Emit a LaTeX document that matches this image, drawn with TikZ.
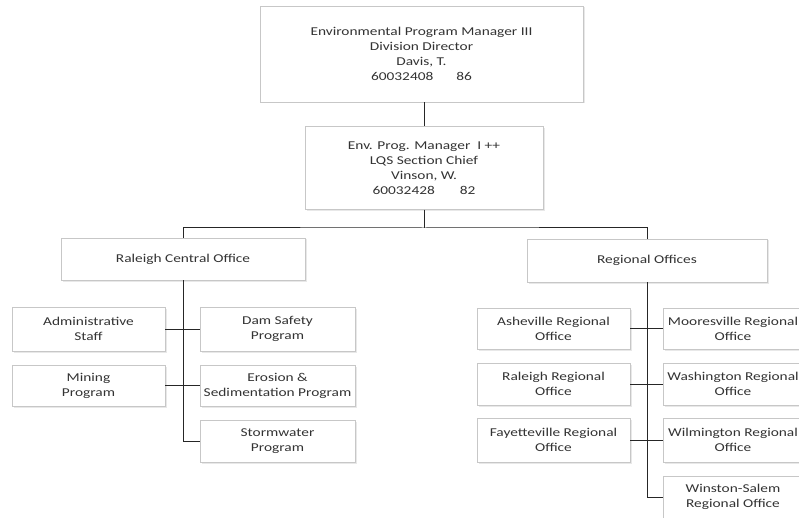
\documentclass[tikz,border=0pt]{standalone}
\usepackage{fontspec}
\setmainfont{Carlito}[FakeStretch=1.28]
\usetikzlibrary{shadows}
\tikzset{
  unit/.style={draw=black!22, fill=white, align=center, text=black!80,
    font=\fontsize{12}{15}\selectfont, inner sep=0pt,
    drop shadow={opacity=0.18, shadow xshift=1.5pt, shadow yshift=-1.5pt}},
  link/.style={draw=black!85, line width=1pt}
}
\begin{document}
\begin{tikzpicture}[x=1pt,y=-1pt]
        \useasboundingbox (0,0) rectangle (799,518);
        %% division director and section chief
        \node[unit, minimum width=323, minimum height=96] (dir) at (421.5,54)
            {Environmental Program Manager III\\Division Director\\Davis, T.\\60032408\hspace{23pt}86};
        \node[unit, minimum width=238, minimum height=83] (chief) at (424,168)
            {Env. Prog. Manager\ \ I ++\\LQS Section Chief\\Vinson, W.\\60032428\hspace{25pt}82};
        %% the two offices
        \node[unit, minimum width=244, minimum height=42] (rco) at (183,259) {Raleigh Central Office};
        \node[unit, minimum width=240, minimum height=43] (reg) at (647,260.5) {Regional Offices};
        %% central office programs
        \node[unit, minimum width=153, minimum height=44] (admin) at (88.5,329) {Administrative\\Staff};
        \node[unit, minimum width=155, minimum height=44] (dam) at (277.5,329) {Dam Safety\\Program};
        \node[unit, minimum width=153, minimum height=41] (mining) at (88.5,385.5) {Mining\\Program};
        \node[unit, minimum width=155, minimum height=41] (erosion) at (277.5,385.5) {Erosion \&\\Sedimentation Program};
        \node[unit, minimum width=155, minimum height=42] (storm) at (277.5,441) {Stormwater\\Program};
        %% regional offices
        \node[unit, minimum width=153, minimum height=41] (ashe) at (553.5,328.5) {Asheville Regional\\Office};
        \node[unit, minimum width=140, minimum height=41] (moor) at (733,328.5) {Mooresville Regional\\Office};
        \node[unit, minimum width=153, minimum height=42] (rreg) at (553.5,384) {Raleigh Regional\\Office};
        \node[unit, minimum width=140, minimum height=42] (wash) at (733,384) {Washington Regional\\Office};
        \node[unit, minimum width=153, minimum height=44] (fay) at (553.5,440) {Fayetteville Regional\\Office};
        \node[unit, minimum width=140, minimum height=44] (wilm) at (733,440) {Wilmington Regional\\Office};
        \node[unit, minimum width=140, minimum height=42] (ws) at (733,497) {Winston-Salem\\Regional Office};
        %% connectors
        \coordinate (bus) at (424,228);
        \draw[link] (chief.north |- dir.south) -- (chief.north);
        \draw[link] (chief.south) -- (bus);
        \draw[link] (rco.north) |- (bus) -| (reg.north);
        \draw[link] (rco.south) |- (storm.west);
        \draw[link] (admin.east) -- (dam.west);
        \draw[link] (mining.east) -- (erosion.west);
        \draw[link] (reg.south) |- (ws.west);
        \draw[link] (ashe.east) -- (moor.west);
        \draw[link] (rreg.east) -- (wash.west);
        \draw[link] (fay.east) -- (wilm.west);
    \end{tikzpicture}
\end{document}
